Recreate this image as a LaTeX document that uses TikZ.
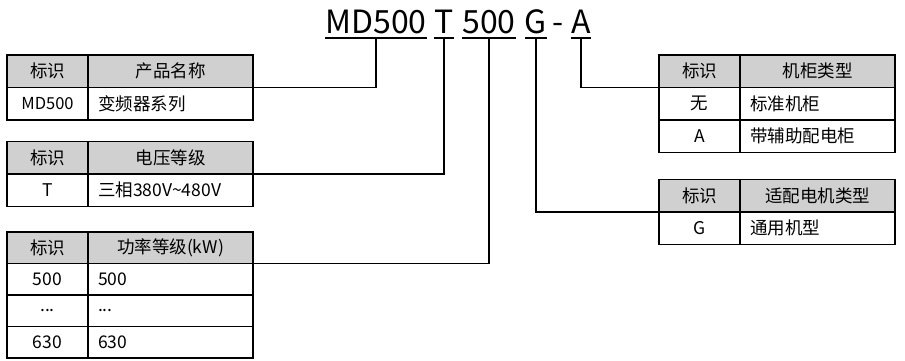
\documentclass[tikz,border=0pt]{standalone}
\usepackage{fontspec}
\setmainfont{Noto Sans CJK SC}
\usetikzlibrary{positioning}
\definecolor{headgray}{RGB}{208,208,208}

\begin{document}
\begin{tikzpicture}[x=1pt,y=-1pt,line width=1.1pt,
                    every node/.style={outer sep=0pt},
                    part/.style={font=\fontsize{32}{32}\selectfont,inner xsep=0pt,
                                 inner ysep=5pt,text depth=0pt,anchor=base},
                    idc/.style={draw,minimum width=81pt,minimum height=32.5pt,inner sep=0pt,
                                font=\fontsize{17.5}{20}\selectfont},
                    namec/.style={draw,text width=145pt,inner xsep=10pt,inner ysep=0pt,
                                  minimum height=32.5pt,align=left,font=\fontsize{17.5}{20}\selectfont},
                    namer/.style={namec,text width=135pt},
                    head/.style={fill=headgray,align=center}]
  \useasboundingbox (0,0) rectangle (905,360);

  % model code
  \node[part] (md) at (376,33) {MD500};
  \node[part] (tt) at (444,33) {T};
  \node[part] (pw) at (489,33) {500};
  \node[part] (gg) at (536,33) {G};
  \node[part] (dash) at (558,33) {-};
  \node[part] (aa) at (581,33) {A};
  \foreach \p in {md,tt,pw,gg,aa}
    \draw (\p.south west) -- (\p.south east);

  % product name
  \node[idc,head,anchor=north west] (t1i0) at (7,55) {标识};
  \node[namec,head] (t1n0) [right=0pt of t1i0] {产品名称};
  \node[idc,font=\fontsize{16.5}{18}\selectfont] (t1i1) [below=0pt of t1i0] {MD500};
  \node[namec] (t1n1) [right=0pt of t1i1] {变频器系列};

  % voltage
  \node[idc,head,anchor=north west] (t2i0) at (7,141.5) {标识};
  \node[namec,head] (t2n0) [right=0pt of t2i0] {电压等级};
  \node[idc]   (t2i1) [below=0pt of t2i0] {T};
  \node[namec] (t2n1) [right=0pt of t2i1] {三相380V\textasciitilde480V};

  % power
  \begin{scope}[idc/.append style={minimum height=31.5pt},
                namec/.append style={minimum height=31.5pt}]
  \node[idc,head,anchor=north west] (t3i0) at (7,232) {标识};
  \node[namec,head] (t3n0) [right=0pt of t3i0] {功率等级(kW)};
  \node[idc]   (t3i1) [below=0pt of t3i0] {500};
  \node[namec] (t3n1) [right=0pt of t3i1] {500};
  \node[idc]   (t3i2) [below=0pt of t3i1] {...};
  \node[namec] (t3n2) [right=0pt of t3i2] {...};
  \node[idc]   (t3i3) [below=0pt of t3i2] {630};
  \node[namec] (t3n3) [right=0pt of t3i3] {630};
  \end{scope}

  % cabinet
  \node[idc,head,anchor=north west] (r1i0) at (659,55) {标识};
  \node[namer,head] (r1n0) [right=0pt of r1i0] {机柜类型};
  \node[idc]   (r1i1) [below=0pt of r1i0] {无};
  \node[namer] (r1n1) [right=0pt of r1i1] {标准机柜};
  \node[idc]   (r1i2) [below=0pt of r1i1] {A};
  \node[namer] (r1n2) [right=0pt of r1i2] {带辅助配电柜};

  % motor
  \node[idc,head,anchor=north west] (r2i0) at (659,179.5) {标识};
  \node[namer,head] (r2n0) [right=0pt of r2i0] {适配电机类型};
  \node[idc]   (r2i1) [below=0pt of r2i0] {G};
  \node[namer] (r2n1) [right=0pt of r2i1] {通用机型};

  \draw (md.south) |- (t1n0.south east);
  \draw (tt.south) |- (t2n0.south east);
  \draw (pw.south) |- (t3n0.south east);
  \draw (gg.south) |- (r2i0.south west);
  \draw (aa.south) |- (r1i0.south west);
\end{tikzpicture}
\end{document}
